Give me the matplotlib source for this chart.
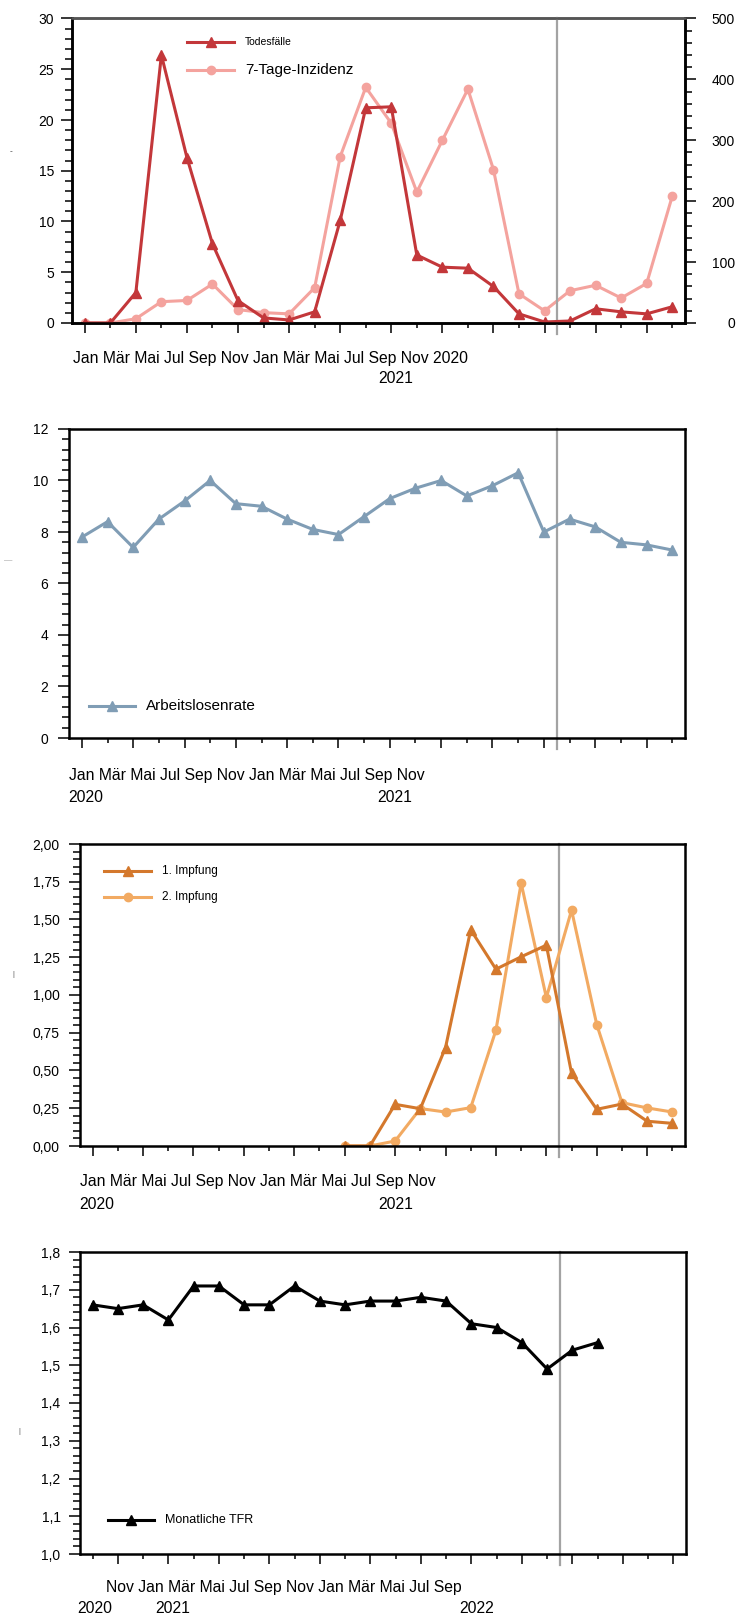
import matplotlib
matplotlib.use("Agg")
import matplotlib.pyplot as plt
from matplotlib.lines import Line2D
from matplotlib.ticker import AutoMinorLocator, FuncFormatter
import numpy as np

plt.rcParams['font.family'] = ['Liberation Sans', 'DejaVu Sans']

# --- data (one point per two months, 24 points) ---
x = np.arange(24)

todesfaelle = [0, 0, 3.0, 26.4, 16.3, 7.8, 2.2, 0.5, 0.3, 1.1, 10.1, 21.2,
               21.3, 6.7, 5.5, 5.4, 3.6, 0.9, 0.1, 0.2, 1.4, 1.1, 0.9, 1.6]
inzidenz = [0, 0, 7, 35, 37, 64, 22, 17, 15, 58, 273, 387,
            328, 215, 300, 384, 252, 48, 20, 53, 62, 41, 65, 208]

arbeitslos = [7.8, 8.4, 7.4, 8.5, 9.2, 10.0, 9.1, 9.0, 8.5, 8.1, 7.9, 8.6,
              9.3, 9.7, 10.0, 9.4, 9.8, 10.3, 8.0, 8.5, 8.2, 7.6, 7.5, 7.3]

impf_x = np.arange(10, 24)
impfung1 = [0, 0, 0.276, 0.247, 0.652, 1.432, 1.171, 1.253, 1.33, 0.482,
            0.243, 0.278, 0.164, 0.150]
impfung2 = [0, 0, 0.033, 0.248, 0.225, 0.254, 0.767, 1.741, 0.983, 1.562,
            0.804, 0.287, 0.252, 0.225]

tfr_x = np.arange(21)
tfr = [1.66, 1.65, 1.66, 1.62, 1.71, 1.71, 1.66, 1.66, 1.71, 1.67, 1.66,
       1.67, 1.67, 1.68, 1.67, 1.61, 1.60, 1.56, 1.49, 1.54, 1.56]

months_jan = ["Jan", "Mär", "Mai", "Jul", "Sep", "Nov"]
months_nov = ["Nov", "Jan", "Mär", "Mai", "Jul", "Sep"]
cut_x = 18.5

RED = '#c3373a'
PINK = '#f4a39e'
BLUE = '#809db5'
ORANGE1 = '#d4782c'
ORANGE2 = '#f2aa62'
GRAY = '#a3a3a3'

W, H = 736, 1619
fig = plt.figure(figsize=(W / 100, H / 100), dpi=100)


def add_ax(l, t, r, b):
    return fig.add_axes([l / W, 1 - b / H, (r - l) / W, (b - t) / H])


def ftext(px, py, s, **kw):
    fig.text(px / W, 1 - py / H, s, **kw)


def style(ax, pad, odd_long=False):
    ax.set_xlim(-0.5, 23.5)
    long_t = x[1::2] if odd_long else x[0::2]
    short_t = x[0::2] if odd_long else x[1::2]
    ax.set_xticks(long_t)
    ax.set_xticks(short_t, minor=True)
    ax.set_xticklabels([])
    ax.tick_params(axis='x', which='major', length=7, width=1.1, top=False)
    ax.tick_params(axis='x', which='minor', length=3.8, width=1.1, top=False)
    ax.tick_params(axis='y', which='major', length=8, width=1.1, pad=pad,
                   labelsize=10, right=False)
    ax.tick_params(axis='y', which='minor', length=5, width=1.1, right=False)
    ax.yaxis.set_minor_locator(AutoMinorLocator(5))
    for s in ax.spines.values():
        s.set_linewidth(1.8)
        s.set_color('black')
    ax.plot([cut_x, cut_x], [-0.035, 1], color=GRAY, lw=1.6,
            transform=ax.get_xaxis_transform(), clip_on=False, zorder=1.5)


def key(x0, x1, py, color, marker, ms, label, fs):
    yy = 1 - py / H
    fig.add_artist(Line2D([x0 / W, x1 / W], [yy, yy], color=color, lw=2.2,
                          transform=fig.transFigure))
    fig.add_artist(Line2D([(x0 + x1) / 2 / W], [yy], color=color, marker=marker,
                          ms=ms, lw=0, transform=fig.transFigure))
    ftext(x1 + 11, py, label, va='center', ha='left', fontsize=fs)


# --- panel 1: Todesfälle / Inzidenz ---
ax1 = add_ax(72, 18.5, 685, 323)
ax1r = ax1.twinx()
ax1.set_zorder(ax1r.get_zorder() + 1)
ax1.patch.set_visible(False)
style(ax1, pad=5)
ax1.set_ylim(0, 30)
ax1.set_yticks(range(0, 31, 5))
ax1.spines['top'].set_color('#555555')
ax1r.set_ylim(0, 500)
ax1r.set_yticks(range(0, 501, 100))
ax1r.yaxis.set_minor_locator(AutoMinorLocator(5))
ax1r.tick_params(axis='y', which='major', length=8, width=1.1, pad=28, labelsize=10)
ax1r.tick_params(axis='y', which='minor', length=5, width=1.1)
for s in ax1r.spines.values():
    s.set_linewidth(1.8)
ax1r.spines['top'].set_color('#555555')
for lbl in ax1r.get_yticklabels():
    lbl.set_horizontalalignment('right')
ax1r.plot(x, inzidenz, color=PINK, marker='o', ms=6, lw=2.2)
ax1.plot(x, todesfaelle, color=RED, marker='^', ms=7, lw=2.2)
key(187, 234, 42, RED, '^', 7, "Todesfälle", 7.5)
key(187, 234, 70, PINK, 'o', 6, "7-Tage-Inzidenz", 11)
ftext(73, 363, " ".join(months_jan * 2 + ["2020"]), fontsize=11.3, va='baseline')
ftext(378, 383, "2021", fontsize=11.3, va='baseline')
ftext(10, 152, "-", fontsize=6, va='center', color='#333333')

# --- panel 2: Arbeitslosenrate ---
ax2 = add_ax(69, 429, 685, 738)
style(ax2, pad=7)
ax2.set_ylim(0, 12)
ax2.set_yticks(range(0, 13, 2))
ax2.plot(x, arbeitslos, color=BLUE, marker='^', ms=7, lw=2.2)
key(89, 135, 706, BLUE, '^', 7, "Arbeitslosenrate", 11)
ftext(69, 780, " ".join(months_jan * 2), fontsize=11.3, va='baseline')
ftext(68, 802, "2020", fontsize=11.3, va='baseline')
ftext(377, 802, "2021", fontsize=11.3, va='baseline')
ftext(4, 561, "—", fontsize=6, va='center', color='#999999')

# --- panel 3: Impfungen ---
ax3 = add_ax(80, 844, 685, 1146)
style(ax3, pad=6.5)
ax3.set_ylim(0, 2)
ax3.set_yticks(np.arange(0, 2.01, 0.25))
ax3.yaxis.set_major_formatter(FuncFormatter(lambda v, p: f"{v:.2f}".replace('.', ',')))
ax3.plot(impf_x, impfung2, color=ORANGE2, marker='o', ms=6, lw=2.2)
ax3.plot(impf_x, impfung1, color=ORANGE1, marker='^', ms=7, lw=2.2)
key(104, 151, 871, ORANGE1, '^', 7, "1. Impfung", 8.5)
key(104, 151, 897, ORANGE2, 'o', 6, "2. Impfung", 8.5)
ftext(80, 1186, " ".join(months_jan * 2), fontsize=11.3, va='baseline')
ftext(79, 1209, "2020", fontsize=11.3, va='baseline')
ftext(378, 1209, "2021", fontsize=11.3, va='baseline')
ftext(12, 974, "|", fontsize=5, va='center', color='#555555')

# --- panel 4: Monatliche TFR ---
ax4 = add_ax(80, 1252, 686, 1554)
style(ax4, pad=6, odd_long=True)
ax4.set_ylim(1.0, 1.8)
ax4.set_yticks(np.arange(1.0, 1.81, 0.1))
ax4.yaxis.set_major_formatter(FuncFormatter(lambda v, p: f"{v:.1f}".replace('.', ',')))
ax4.plot(tfr_x, tfr, color='black', marker='^', ms=7, lw=2.2)
key(108, 154, 1520, 'black', '^', 7, "Monatliche TFR", 9)
ftext(106, 1592, " ".join(months_nov * 2), fontsize=11.3, va='baseline')
ftext(77, 1613, "2020", fontsize=11.3, va='baseline')
ftext(155, 1613, "2021", fontsize=11.3, va='baseline')
ftext(459, 1613, "2022", fontsize=11.3, va='baseline')
ftext(18, 1431, "|", fontsize=5, va='center', color='#555555')

fig.savefig("out.png", dpi=100)
